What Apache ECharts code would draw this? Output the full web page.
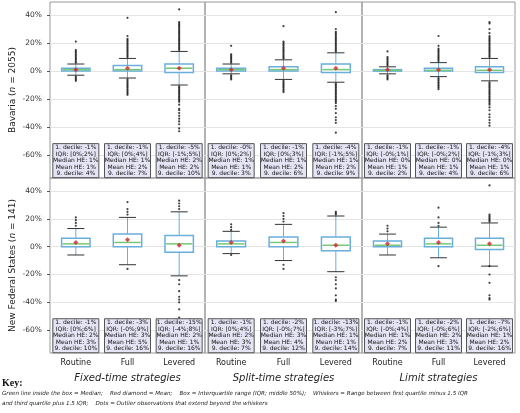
<!DOCTYPE html>
<html><head><meta charset="utf-8">
<script src="https://cdn.jsdelivr.net/npm/echarts@6/dist/echarts.min.js"></script>
<style>html,body{margin:0;padding:0;background:#fff}#c{width:520px;height:413px}</style>
</head><body><div id="c"></div>
<script>
const categories = ['Routine','Full','Levered'];
const groups = ['Fixed-time strategies','Split-time strategies','Limit strategies'];
const rowNames = ['Bavaria', 'New Federal States'];
const rowN = ['2055', '141'];
const yTicks = [-60,-40,-20,0,20,40];
// [lower whisker, Q1, median, Q3, upper whisker] per strategy (9 = 3 groups x 3)
const bavBox = [[-3,0,1,2,5],[-5,0,1,4,9],[-10,-1,2,5,14],[-2,0,1,2,5],[-6,0,1,3,8],[-8,-1,1,5,13],[-2,0,0.5,1,3],[-4,0,0.5,2,6],[-7,-1,0.5,3,9]];
const bavMean = [1,2,2,1,2,2,1,1,1];
const bavOut = [
 [6,7,8,9,10,11,12,13,14,15,21,-4,-5,-6,-7],
 [10,11,12,13,14,15,16,17,18,19,20,21,22,23,25,38,-6,-7,-8,-9,-10,-11,-12,-13,-14,-15,-16,-17],
 [15,16,17,18,19,20,21,22,23,24,25,26,27,28,29,30,31,32,33,34,35,44,-11,-12,-13,-14,-15,-16,-17,-18,-19,-20,-21,-22,-24,-27,-28,-30,-32,-34,-36,-38,-41,-43],
 [6,7,8,9,10,11,12,18,-3,-4,-5,-6],
 [9,10,11,12,13,14,15,16,17,18,19,20,21,32,-7,-8,-9,-10,-11,-12,-13,-14,-15],
 [14,15,16,17,18,19,20,21,22,23,24,25,26,27,28,30,42,-9,-10,-11,-12,-13,-14,-15,-16,-17,-18,-19,-20,-21,-22,-23,-25,-27,-30,-33,-35,-37,-44],
 [4,5,6,7,8,9,10,14,-3,-4,-5,-6],
 [7,8,9,10,11,12,13,14,15,16,18,25,-5,-6,-7,-8,-9,-10,-11,-12,-13],
 [10,11,12,13,14,15,16,17,18,19,20,21,22,23,24,25,27,30,34,35,-8,-9,-10,-11,-12,-13,-14,-15,-16,-17,-18,-19,-20,-21,-22,-23,-24,-26,-28,-31,-33,-35,-37,-39]
];
const bavStats = [
 ['-1%','[0%;2%]','1%','1%','4%'],['-1%','[0%;4%]','1%','2%','7%'],['-5%','[-1%;5%]','2%','2%','10%'],
 ['-0%','[0%;2%]','1%','1%','3%'],['-1%','[0%;3%]','1%','2%','6%'],['-4%','[-1%;5%]','1%','2%','9%'],
 ['-1%','[-0%;1%]','0%','1%','2%'],['-1%','[-0%;2%]','0%','1%','4%'],['-4%','[-1%;3%]','0%','1%','6%']
];
const nfsBox = [[-6,0,2,6,13],[-13,0,3,9,21],[-21,-4,2,8,25],[-5,0,2,4,11],[-10,0,3,7,16],[-18,-3,1,7,22],[-6,0,1,4,9],[-8,0,2,6,14],[-14,-2,1,6,17]];
const nfsMean = [3,5,1,3,4,1,2,3,2];
const nfsOut = [
 [15,17,19,21],
 [23,25,27,32,-16],
 [27,29,31,33,-24,-27,-32,-36,-38,-40,-45,-51],
 [12,14,16,-6],
 [18,20,22,24,-13,-16],
 [23,24,25,-22,-24,-27,-30,-35,-38,-39],
 [11,13,15],
 [15,17,21,28,-14],
 [18,19,20,21,22,23,44,-14,-20,-26,-35,-37,-38]
];
const nfsStats = [
 ['-1%','[0%;6%]','2%','3%','10%'],['-3%','[-0%;9%]','3%','5%','16%'],['-15%','[-4%;8%]','2%','1%','16%'],
 ['-1%','[0%;4%]','2%','3%','7%'],['-2%','[-0%;7%]','3%','4%','12%'],['-13%','[-3%;7%]','1%','1%','14%'],
 ['-1%','[-0%;4%]','1%','2%','7%'],['-2%','[-0%;6%]','2%','3%','11%'],['-7%','[-2%;6%]','1%','2%','16%']
];

const rows = [{box:bavBox,mean:bavMean,out:bavOut,stats:bavStats},{box:nfsBox,mean:nfsMean,out:nfsOut,stats:nfsStats}];
const colX = [[50,205],[205,362],[362,515]];
const rowY = [[2,178],[178,353]];
const grids=[], xAxes=[], yAxes=[], series=[];
rows.forEach((r,ri)=>{
 colX.forEach((cx,gi)=>{
  const idx = ri*3+gi;
  grids.push({left:cx[0], width:cx[1]-cx[0], top:rowY[ri][0], height:rowY[ri][1]-rowY[ri][0], show:true, borderColor:'#999', borderWidth:1});
  xAxes.push({type:'category', gridIndex:idx, data:categories, axisLine:{show:false}, axisTick:{show:false},
   axisLabel:{show:ri===1, color:'#222', fontSize:8, fontFamily:'DejaVu Sans', margin:6},
   name: ri===1?groups[gi]:'', nameLocation:'middle', nameGap:20, nameTextStyle:{fontStyle:'italic', fontSize:10, color:'#222', fontFamily:'DejaVu Sans'}});
  yAxes.push({type:'value', gridIndex:idx, min:-76.4, max:49.3,
   axisLine:{show:false}, axisTick:{show:gi===0, customValues:yTicks, length:3, lineStyle:{color:'#555'}},
   axisLabel:{show:gi===0, customValues:yTicks, formatter:v=>v+'%', fontSize:7.5, color:'#333', fontFamily:'DejaVu Sans'},
   splitLine:{show:true, lineStyle:{color:'#e4e4e4', width:1}},
   name: gi===0?'{a|'+rowNames[ri]+' (}{b|n}{a| = '+rowN[ri]+')}':'', nameLocation:'middle', nameGap:33,
   nameTextStyle:{rich:{a:{fontSize:9,color:'#222',fontFamily:'DejaVu Sans'},b:{fontSize:9,fontStyle:'italic',color:'#222',fontFamily:'DejaVu Sans'}}}});
  const items = [0,1,2].map(k=>[k].concat(r.box[gi*3+k]));
  series.push({type:'custom', xAxisIndex:idx, yAxisIndex:idx, data:items, z:3,
   renderItem:(p,api)=>{
    const x=api.value(0); const c=v=>api.coord([x,v]);
    const bw=api.size([1,0])[0]*0.55, cw=bw*0.6;
    const lo=c(api.value(1)), q1=c(api.value(2)), md=c(api.value(3)), q3=c(api.value(4)), hi=c(api.value(5));
    const blue='#6aaedb';
    return {type:'group', children:[
     {type:'line', shape:{x1:lo[0],y1:lo[1],x2:q1[0],y2:q1[1]}, style:{stroke:blue,lineWidth:1}},
     {type:'line', shape:{x1:q3[0],y1:q3[1],x2:hi[0],y2:hi[1]}, style:{stroke:blue,lineWidth:1}},
     {type:'line', shape:{x1:lo[0]-cw/2,y1:lo[1],x2:lo[0]+cw/2,y2:lo[1]}, style:{stroke:'#333',lineWidth:1}},
     {type:'line', shape:{x1:hi[0]-cw/2,y1:hi[1],x2:hi[0]+cw/2,y2:hi[1]}, style:{stroke:'#333',lineWidth:1}},
     {type:'rect', shape:{x:q3[0]-bw/2,y:q3[1],width:bw,height:Math.max(q1[1]-q3[1],1.5)}, style:{fill:'#fff',stroke:blue,lineWidth:1.5}},
     {type:'line', shape:{x1:md[0]-bw/2+1,y1:md[1],x2:md[0]+bw/2-1,y2:md[1]}, style:{stroke:'#77c977',lineWidth:1.5}}
    ]};
   }});
  const outs=[];
  [0,1,2].forEach(k=>r.out[gi*3+k].forEach(v=>outs.push([k,v])));
  series.push({type:'scatter', xAxisIndex:idx, yAxisIndex:idx, data:outs, symbolSize:2.2, itemStyle:{color:'#111'}, z:4, silent:true});
  series.push({type:'scatter', xAxisIndex:idx, yAxisIndex:idx, data:[0,1,2].map(k=>[k,r.mean[gi*3+k]]), symbol:'diamond', symbolSize:5, itemStyle:{color:'#d62020'}, z:5});
  const st=[0,1,2].map(k=>[k,-64].concat(r.stats[gi*3+k]));
  series.push({type:'custom', xAxisIndex:idx, yAxisIndex:idx, data:st, z:6,
   renderItem:(p,api)=>{
    const pt=api.coord([api.value(0),api.value(1)]);
    const s=st[p.dataIndex];
    const txt='1. decile: '+s[2]+'\nIQR: '+s[3]+'\nMedian HE: '+s[4]+'\nMean HE: '+s[5]+'\n9. decile: '+s[6];
    return {type:'group', children:[
     {type:'rect', shape:{x:pt[0]-23,y:pt[1]-17,width:46,height:34}, style:{fill:'#e4e4f4',stroke:'#555',lineWidth:1}},
     {type:'text', x:pt[0], y:pt[1], style:{text:txt, align:'center', verticalAlign:'middle', fontSize:6, lineHeight:6.5, fill:'#111', fontFamily:'DejaVu Sans'}}
    ]};
   }});
 });
});
const chart=echarts.init(document.getElementById('c'));
chart.setOption({animation:false, grid:grids, xAxis:xAxes, yAxis:yAxes, series:series,
 graphic:[
  {type:'text', left:2, top:378, style:{text:'Key:', font:'bold 10px "Liberation Serif"', fill:'#111'}},
  {type:'text', left:2, top:391, style:{text:'Green line inside the box = Median;    Red diamond = Mean;    Box = Interquartile range (IQR; middle 50%);    Whiskers = Range between first quartile minus 1.5 IQR', font:'italic 5.6px "DejaVu Sans"', fill:'#222'}},
  {type:'text', left:2, top:401, style:{text:'and third quartile plus 1.5 IQR;    Dots = Outlier observations that extend beyond the whiskers', font:'italic 5.6px "DejaVu Sans"', fill:'#222'}}
 ]});
</script></body></html>
